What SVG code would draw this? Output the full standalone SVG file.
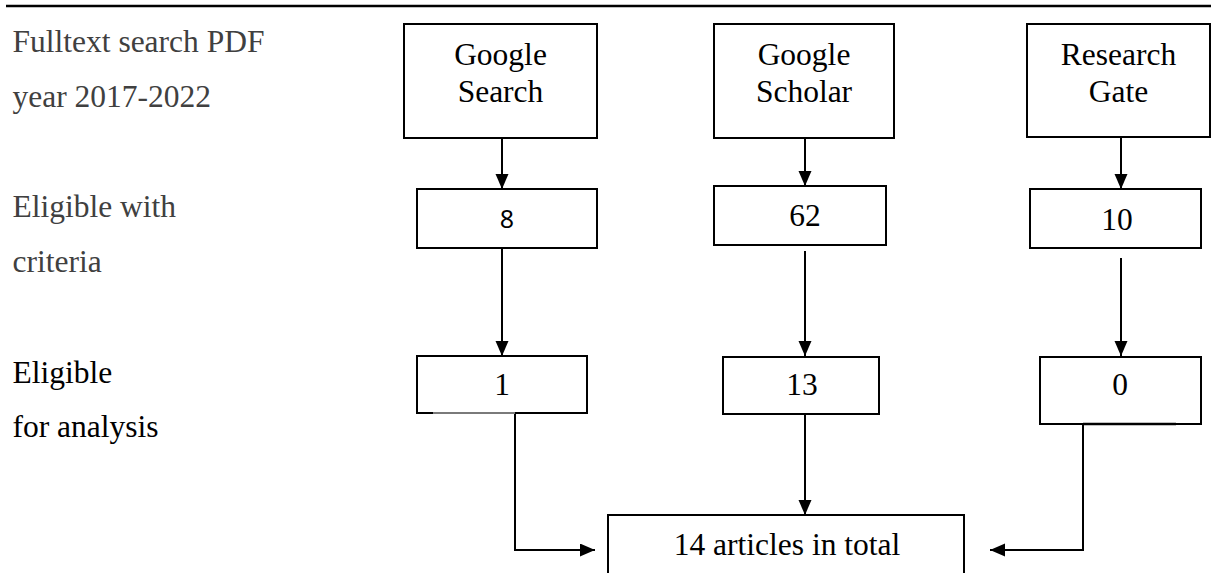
<svg xmlns="http://www.w3.org/2000/svg" width="1211" height="573" viewBox="0 0 1211 573">
  <style>
    .bg { fill: #ffffff; }
    .box { fill: #ffffff; stroke: #000000; stroke-width: 2; }
    .t { font-family: "Liberation Serif", "Times New Roman", serif; font-size: 31.5px; fill: #000000; }
    .c { text-anchor: middle; }
    .gray { fill: #404040; }
    .sans { font-family: "Noto Sans", "Liberation Sans", sans-serif; font-size: 25px; fill: #000000; }
    .conn { fill: none; stroke: #000000; stroke-width: 2; }
  </style>
  <defs>
    <marker id="arrow" markerUnits="userSpaceOnUse" markerWidth="16" markerHeight="14" refX="15" refY="6.5" orient="auto">
      <path d="M0,0 L15,6.5 L0,13 Z" fill="#000000"/>
    </marker>
  </defs>
  <rect class="bg" x="0" y="0" width="1211" height="573"/>
  <line x1="6" y1="6" x2="1211" y2="6" stroke="#000000" stroke-width="2.5"/>

  <g id="labels">
    <text class="t gray" x="12.5" y="51.7">Fulltext search PDF</text>
    <text class="t gray" x="12.5" y="106.7">year 2017-2022</text>
    <text class="t gray" x="12.5" y="216.7">Eligible with</text>
    <text class="t gray" x="12.5" y="272">criteria</text>
    <text class="t" x="12.5" y="383.3">Eligible</text>
    <text class="t" x="12.5" y="436.7">for analysis</text>
  </g>

  <g id="connectors">
    <line class="conn" x1="502" y1="138" x2="502" y2="189" marker-end="url(#arrow)"/>
    <line class="conn" x1="502" y1="248" x2="502" y2="356" marker-end="url(#arrow)"/>
    <line class="conn" x1="805" y1="138" x2="805" y2="186" marker-end="url(#arrow)"/>
    <line class="conn" x1="805" y1="251" x2="805" y2="356" marker-end="url(#arrow)"/>
    <line class="conn" x1="1121" y1="138" x2="1121" y2="189" marker-end="url(#arrow)"/>
    <line class="conn" x1="1121" y1="258" x2="1121" y2="356" marker-end="url(#arrow)"/>
    <line class="conn" x1="805" y1="414" x2="805" y2="515" marker-end="url(#arrow)"/>
    <path class="conn" d="M515,413 L515,550 L595,550" marker-end="url(#arrow)"/>
    <path class="conn" d="M1083,424 L1083,550 L990,550" marker-end="url(#arrow)"/>
  </g>

  <g id="node-google-search">
    <rect class="box" x="404" y="24" width="193" height="114"/>
    <text class="t c" x="500.5" y="65">Google</text>
    <text class="t c" x="500.5" y="101.7">Search</text>
  </g>
  <g id="node-google-scholar">
    <rect class="box" x="714" y="24" width="180" height="114"/>
    <text class="t c" x="804" y="65">Google</text>
    <text class="t c" x="804" y="101.7">Scholar</text>
  </g>
  <g id="node-research-gate">
    <rect class="box" x="1027" y="24" width="183" height="113"/>
    <text class="t c" x="1118.5" y="65">Research</text>
    <text class="t c" x="1118.5" y="101.7">Gate</text>
  </g>

  <g id="node-8">
    <rect class="box" x="417" y="189" width="180" height="59"/>
    <text class="sans c" x="507" y="228.3">8</text>
  </g>
  <g id="node-62">
    <rect class="box" x="714" y="186" width="172" height="59"/>
    <text class="t c" x="805" y="226">62</text>
  </g>
  <g id="node-10">
    <rect class="box" x="1030" y="189" width="171" height="59"/>
    <text class="t c" x="1117" y="230">10</text>
  </g>

  <g id="node-1">
    <rect class="box" x="417" y="356" width="170" height="57"/>
    <line x1="433" y1="413" x2="515" y2="413" stroke="#7a7a7a" stroke-width="2"/>
    <text class="t c" x="502" y="395">1</text>
  </g>
  <g id="node-13">
    <rect class="box" x="723" y="357" width="156" height="57"/>
    <text class="t c" x="802" y="395">13</text>
  </g>
  <g id="node-0">
    <rect class="box" x="1040" y="357" width="161" height="67"/>
    <line x1="1083" y1="424" x2="1176" y2="424" stroke="#000000" stroke-width="2.5"/>
    <text class="t c" x="1120" y="395">0</text>
  </g>

  <g id="node-total">
    <rect class="box" x="608" y="515" width="356" height="80"/>
    <text class="t c" x="787" y="555">14 articles in total</text>
  </g>
</svg>
